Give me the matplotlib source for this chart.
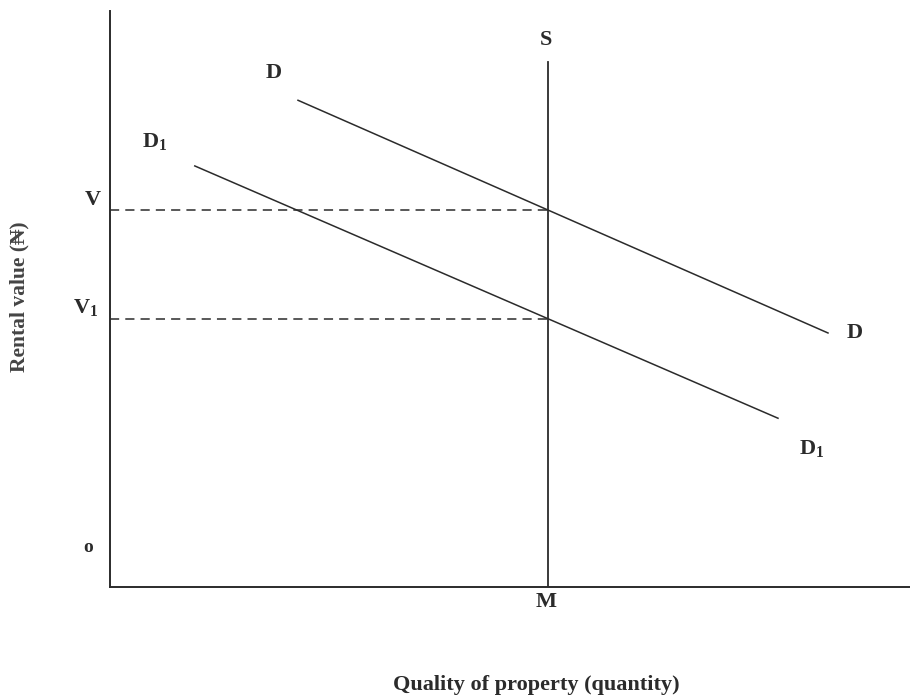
import matplotlib
matplotlib.use('Agg')
import matplotlib.pyplot as plt

# demand curves (start, end) in chart units
d_x = [23.5, 89.75]
d_y = [84.5, 44.1]
d1_x = [10.6, 83.5]
d1_y = [73.1, 29.3]
# vertical supply line at M
s_x = 54.75
s_top = 91.1
# rental value levels
v = 65.5
v1 = 46.5

plt.rcParams['font.family'] = ['Liberation Serif', 'DejaVu Serif']
plt.rcParams['font.weight'] = 'bold'
plt.rcParams['mathtext.fontset'] = 'custom'
plt.rcParams['mathtext.rm'] = 'Liberation Serif:bold'
plt.rcParams['mathtext.bf'] = 'Liberation Serif:bold'
plt.rcParams['mathtext.default'] = 'rm'

ink = '#2b2b2b'
fig = plt.figure(figsize=(9.1, 6.98), dpi=100)
ax = fig.add_axes([110 / 910, 1 - 587 / 698, 800 / 910, 576 / 698])
ax.set_xlim(0, 100)
ax.set_ylim(0, 100)

ax.plot(d_x, d_y, color=ink, lw=1.1)
ax.plot(d1_x, d1_y, color=ink, lw=1.1)
ax.plot([s_x, s_x], [0, s_top], color=ink, lw=1.3)
ax.plot([0, s_x], [v, v], color=ink, lw=1.1, ls=(0, (6, 4)))
ax.plot([0, s_x], [v1, v1], color=ink, lw=1.1, ls=(0, (6, 4)))

ax.spines['top'].set_visible(False)
ax.spines['right'].set_visible(False)
ax.spines['left'].set_color(ink)
ax.spines['bottom'].set_color(ink)
ax.spines['left'].set_linewidth(1.4)
ax.spines['bottom'].set_linewidth(1.4)
ax.set_xticks([])
ax.set_yticks([])

fs = 16
kw = dict(ha='center', va='center', fontsize=fs, color=ink, clip_on=False)
ax.text(54.5, 95.0, 'S', **kw)
ax.text(20.4, 89.2, 'D', **kw)
ax.text(5.6, 77.3, 'D$_1$', **kw)
ax.text(-2.1, 67.2, 'V', **kw)
ax.text(-3.1, 48.6, 'V$_1$', **kw)
ax.text(93.1, 44.1, 'D', **kw)
ax.text(87.75, 24.1, 'D$_1$', **kw)
ax.text(-2.75, 6.8, 'o', fontsize=14, ha='center', va='center', color=ink,
        clip_on=False)
ax.text(54.5, -2.6, 'M', **kw)

fig.text(536 / 910, 1 - 685 / 698, 'Quality of property (quantity)',
         ha='center', va='center', fontsize=16, color=ink)
fig.text(19 / 910, 1 - 297 / 698, 'Rental value (₦)', rotation=90,
         ha='center', va='center', fontsize=15.5, color='#444444')

plt.savefig('out.png', dpi=100)
